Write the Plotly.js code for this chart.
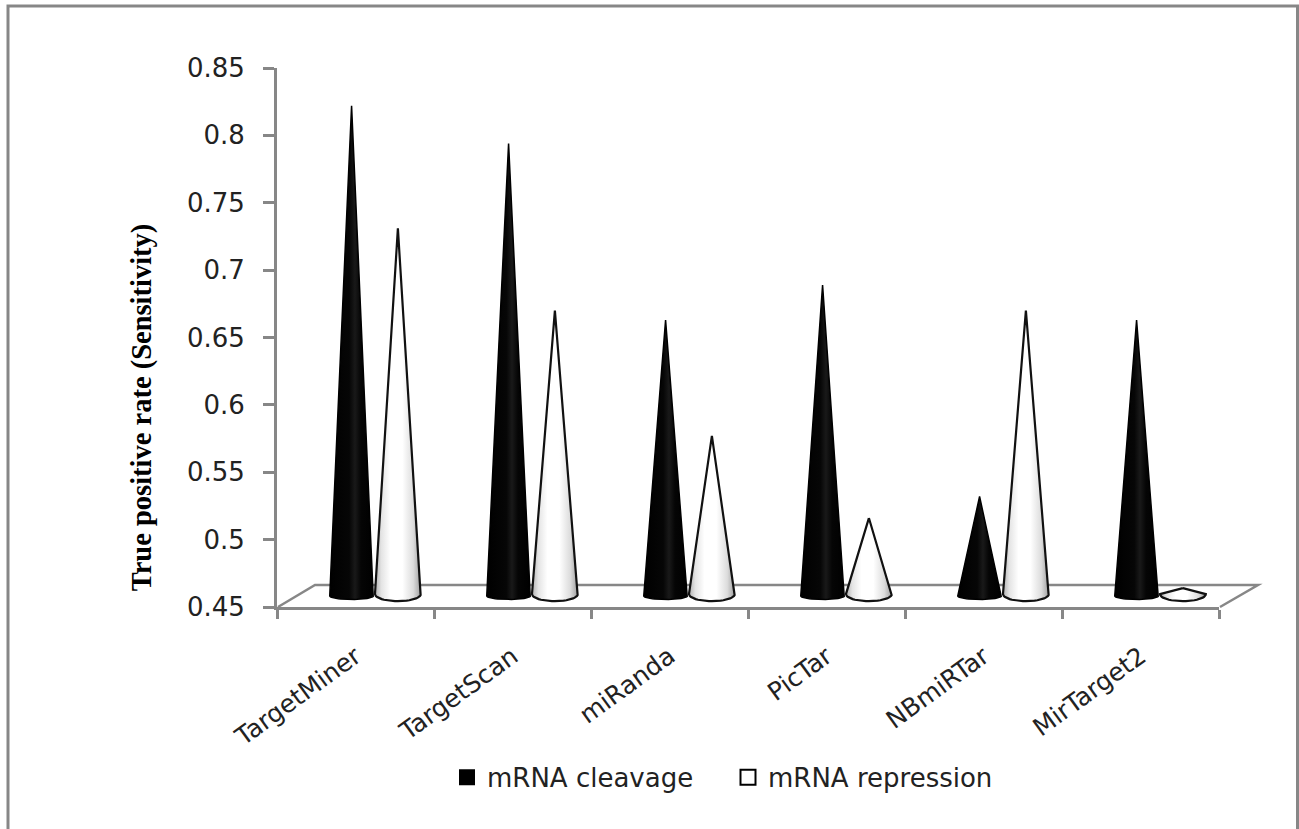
<!DOCTYPE html>
<html>
<head>
<meta charset="utf-8">
<script src="https://cdn.plot.ly/plotly-3.0.1.min.js"></script>
<style>html,body{margin:0;padding:0;background:#fff;overflow:hidden}</style>
</head>
<body>
<div id="chart" style="width:1299px;height:829px"></div>
<script>
var categories = ["TargetMiner", "TargetScan", "miRanda", "PicTar", "NBmiRTar", "MirTarget2"];
var cleavage = [0.822, 0.794, 0.663, 0.689, 0.532, 0.663];
var repression = [0.731, 0.670, 0.577, 0.516, 0.670, 0.464];
var yTickVals = [0.45, 0.5, 0.55, 0.6, 0.65, 0.7, 0.75, 0.8, 0.85];
var yTickText = ["0.45", "0.5", "0.55", "0.6", "0.65", "0.7", "0.75", "0.8", "0.85"];
var seriesNames = ["mRNA cleavage", "mRNA repression"];
var yTitle = "True positive rate (Sensitivity)";

var GREY = "#878787", TXT = "#222222";
var L = 277, R = 1219, T = 67.5, B = 607;
function px(x) { return (x - L) / (R - L); }
function py(y) { return (B - y) / (B - T); }

// Cone geometry (3D look): the base is an ellipse in front of the floor
function cone(cx, top, hw, baseY, ry, grad, lineStyle) {
  var xs = [cx], ys = [top];
  for (var i = 0; i <= 24; i++) {
    var t = Math.PI * i / 24;
    xs.push(cx + hw * Math.cos(t));
    ys.push(baseY - ry * Math.sin(t));
  }
  xs.push(cx); ys.push(top);
  return {
    type: "scatter", mode: "lines", x: xs, y: ys, fill: "toself",
    fillgradient: { type: "horizontal", colorscale: grad },
    line: lineStyle, showlegend: false, hoverinfo: "skip", cliponaxis: false
  };
}
var blackGrad = [[0, "#000"], [0.45, "#060606"], [0.58, "#191919"], [0.72, "#050505"], [1, "#000"]];
var whiteGrad = [[0, "#b0b0b0"], [0.14, "#e4e4e4"], [0.34, "#fff"], [0.6, "#fff"], [0.84, "#dcdcdc"], [1, "#a0a0a0"]];

var traces = [];
categories.forEach(function (c, i) {
  traces.push(cone(i - 0.025, cleavage[i], 0.139, 0.4582, 0.0026, blackGrad, { color: "#000", width: 1.5 }));
  traces.push(cone(i + 0.27, repression[i], 0.146, 0.4596, 0.0053, whiteGrad, { color: "#111", width: 2.2 }));
});
traces.push({ type: "scatter", mode: "markers", x: [null], y: [null], name: seriesNames[0],
  marker: { symbol: "square", size: 17, color: "#000", line: { color: "#000", width: 0 } } });
traces.push({ type: "scatter", mode: "markers", x: [null], y: [null], name: seriesNames[1],
  marker: { symbol: "square", size: 15, color: "#fff", line: { color: "#000", width: 2 } } });

var catIdx = categories.map(function (c, i) { return i; });
var bounds = [-0.5].concat(catIdx.map(function (i) { return i + 0.5; }));

var layout = {
  width: 1299, height: 829,
  paper_bgcolor: "#fff", plot_bgcolor: "rgba(0,0,0,0)",
  margin: { l: L, r: 1299 - R, t: T, b: 829 - B, autoexpand: false },
  font: { family: "DejaVu Sans", color: TXT, size: 25 },
  xaxis: {
    range: [-0.5, 5.5], tickmode: "array", tickvals: catIdx, ticktext: categories,
    tickangle: -36, ticks: "", ticklabelstandoff: 22, showgrid: false, zeroline: false,
    showline: true, linecolor: GREY, linewidth: 3,
    minor: { tickmode: "array", tickvals: bounds, ticks: "outside", ticklen: 9, tickwidth: 3, tickcolor: GREY, showgrid: false },
    tickfont: { family: "DejaVu Sans", size: 25, color: TXT }
  },
  yaxis: {
    range: [0.45, 0.85], tickmode: "array", tickvals: yTickVals, ticktext: yTickText,
    ticks: "outside", ticklen: 11, tickwidth: 3, tickcolor: GREY, ticklabelstandoff: 13,
    showgrid: false, zeroline: false, showline: true, linecolor: GREY, linewidth: 3,
    tickfont: { family: "DejaVu Sans", size: 26, color: TXT }
  },
  annotations: [{
    text: "<b>" + yTitle + "</b>", xref: "paper", yref: "paper", x: px(145), y: py(407),
    xanchor: "center", yanchor: "middle", textangle: -90, showarrow: false, xshift: -3,
    font: { family: "Liberation Serif", size: 28.5, color: "#000" }
  }],
  legend: {
    orientation: "h", x: px(447), y: py(754), xanchor: "left", yanchor: "top",
    font: { family: "DejaVu Sans", size: 26, color: TXT },
    entrywidth: 236, entrywidthmode: "pixels", itemwidth: 30,
    bgcolor: "rgba(0,0,0,0)", borderwidth: 0
  },
  shapes: [
    { type: "path", xref: "paper", yref: "paper", layer: "below",
      path: "M " + px(278) + " " + py(607) + " L " + px(315) + " " + py(585) + " L " + px(1258) + " " + py(585) + " L " + px(1220) + " " + py(607),
      line: { color: GREY, width: 2.5 } },
    { type: "path", xref: "paper", yref: "paper", layer: "below",
      path: "M " + px(8) + " " + py(840) + " L " + px(8) + " " + py(5.5) + " L " + px(1297.5) + " " + py(5.5) + " L " + px(1297.5) + " " + py(840),
      line: { color: GREY, width: 3 } }
  ]
};
Plotly.newPlot("chart", traces, layout, { displayModeBar: false, staticPlot: true });
</script>
</body>
</html>
